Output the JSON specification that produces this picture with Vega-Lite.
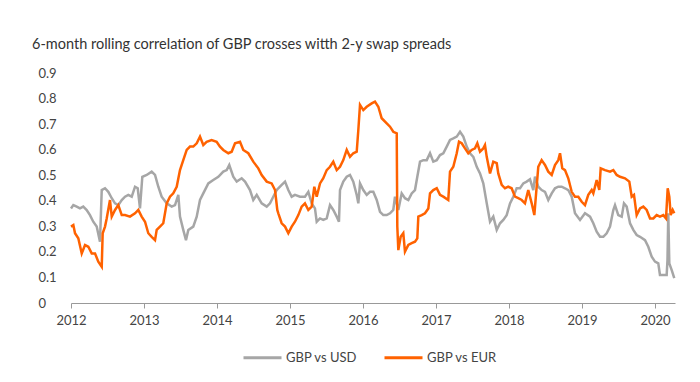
{
  "$schema": "https://vega.github.io/schema/vega-lite/v6.json",
  "width": 604,
  "height": 230,
  "autosize": {"type": "none"},
  "padding": {"left": 71, "top": 73, "right": 25, "bottom": 79},
  "background": "white",
  "title": {
    "text": "6-month rolling correlation of GBP crosses witth 2-y swap spreads",
    "anchor": "start",
    "frame": "group",
    "dx": -39,
    "offset": 15,
    "font": "Lato",
    "fontSize": 14.5,
    "fontWeight": "normal",
    "color": "#333333"
  },
  "config": {
    "view": {"stroke": null},
    "font": "Lato"
  },
  "data": {
    "values": [
      {"year": 2012.000, "series": "GBP vs USD", "value": 0.370},
      {"year": 2012.032, "series": "GBP vs USD", "value": 0.383},
      {"year": 2012.078, "series": "GBP vs USD", "value": 0.377},
      {"year": 2012.123, "series": "GBP vs USD", "value": 0.370},
      {"year": 2012.168, "series": "GBP vs USD", "value": 0.377},
      {"year": 2012.215, "series": "GBP vs USD", "value": 0.364},
      {"year": 2012.260, "series": "GBP vs USD", "value": 0.344},
      {"year": 2012.305, "series": "GBP vs USD", "value": 0.318},
      {"year": 2012.352, "series": "GBP vs USD", "value": 0.299},
      {"year": 2012.397, "series": "GBP vs USD", "value": 0.240},
      {"year": 2012.421, "series": "GBP vs USD", "value": 0.442},
      {"year": 2012.466, "series": "GBP vs USD", "value": 0.449},
      {"year": 2012.511, "series": "GBP vs USD", "value": 0.435},
      {"year": 2012.558, "series": "GBP vs USD", "value": 0.410},
      {"year": 2012.603, "series": "GBP vs USD", "value": 0.390},
      {"year": 2012.648, "series": "GBP vs USD", "value": 0.383},
      {"year": 2012.695, "series": "GBP vs USD", "value": 0.403},
      {"year": 2012.740, "series": "GBP vs USD", "value": 0.416},
      {"year": 2012.785, "series": "GBP vs USD", "value": 0.423},
      {"year": 2012.832, "series": "GBP vs USD", "value": 0.416},
      {"year": 2012.877, "series": "GBP vs USD", "value": 0.455},
      {"year": 2012.914, "series": "GBP vs USD", "value": 0.449},
      {"year": 2012.945, "series": "GBP vs USD", "value": 0.370},
      {"year": 2012.977, "series": "GBP vs USD", "value": 0.494},
      {"year": 2013.037, "series": "GBP vs USD", "value": 0.501},
      {"year": 2013.105, "series": "GBP vs USD", "value": 0.514},
      {"year": 2013.151, "series": "GBP vs USD", "value": 0.501},
      {"year": 2013.196, "series": "GBP vs USD", "value": 0.455},
      {"year": 2013.242, "series": "GBP vs USD", "value": 0.416},
      {"year": 2013.311, "series": "GBP vs USD", "value": 0.390},
      {"year": 2013.379, "series": "GBP vs USD", "value": 0.377},
      {"year": 2013.425, "series": "GBP vs USD", "value": 0.383},
      {"year": 2013.470, "series": "GBP vs USD", "value": 0.423},
      {"year": 2013.493, "series": "GBP vs USD", "value": 0.338},
      {"year": 2013.538, "series": "GBP vs USD", "value": 0.286},
      {"year": 2013.575, "series": "GBP vs USD", "value": 0.246},
      {"year": 2013.607, "series": "GBP vs USD", "value": 0.286},
      {"year": 2013.675, "series": "GBP vs USD", "value": 0.299},
      {"year": 2013.722, "series": "GBP vs USD", "value": 0.338},
      {"year": 2013.767, "series": "GBP vs USD", "value": 0.403},
      {"year": 2013.812, "series": "GBP vs USD", "value": 0.429},
      {"year": 2013.881, "series": "GBP vs USD", "value": 0.468},
      {"year": 2013.949, "series": "GBP vs USD", "value": 0.481},
      {"year": 2014.018, "series": "GBP vs USD", "value": 0.494},
      {"year": 2014.086, "series": "GBP vs USD", "value": 0.514},
      {"year": 2014.133, "series": "GBP vs USD", "value": 0.520},
      {"year": 2014.168, "series": "GBP vs USD", "value": 0.540},
      {"year": 2014.223, "series": "GBP vs USD", "value": 0.494},
      {"year": 2014.270, "series": "GBP vs USD", "value": 0.475},
      {"year": 2014.338, "series": "GBP vs USD", "value": 0.488},
      {"year": 2014.384, "series": "GBP vs USD", "value": 0.475},
      {"year": 2014.452, "series": "GBP vs USD", "value": 0.442},
      {"year": 2014.497, "series": "GBP vs USD", "value": 0.403},
      {"year": 2014.544, "series": "GBP vs USD", "value": 0.423},
      {"year": 2014.612, "series": "GBP vs USD", "value": 0.390},
      {"year": 2014.681, "series": "GBP vs USD", "value": 0.377},
      {"year": 2014.726, "series": "GBP vs USD", "value": 0.390},
      {"year": 2014.771, "series": "GBP vs USD", "value": 0.416},
      {"year": 2014.818, "series": "GBP vs USD", "value": 0.442},
      {"year": 2014.840, "series": "GBP vs USD", "value": 0.449},
      {"year": 2014.886, "series": "GBP vs USD", "value": 0.462},
      {"year": 2014.932, "series": "GBP vs USD", "value": 0.475},
      {"year": 2014.977, "series": "GBP vs USD", "value": 0.442},
      {"year": 2015.023, "series": "GBP vs USD", "value": 0.416},
      {"year": 2015.068, "series": "GBP vs USD", "value": 0.423},
      {"year": 2015.137, "series": "GBP vs USD", "value": 0.416},
      {"year": 2015.205, "series": "GBP vs USD", "value": 0.416},
      {"year": 2015.251, "series": "GBP vs USD", "value": 0.435},
      {"year": 2015.297, "series": "GBP vs USD", "value": 0.390},
      {"year": 2015.342, "series": "GBP vs USD", "value": 0.370},
      {"year": 2015.366, "series": "GBP vs USD", "value": 0.318},
      {"year": 2015.411, "series": "GBP vs USD", "value": 0.331},
      {"year": 2015.456, "series": "GBP vs USD", "value": 0.325},
      {"year": 2015.503, "series": "GBP vs USD", "value": 0.331},
      {"year": 2015.548, "series": "GBP vs USD", "value": 0.383},
      {"year": 2015.593, "series": "GBP vs USD", "value": 0.364},
      {"year": 2015.640, "series": "GBP vs USD", "value": 0.338},
      {"year": 2015.671, "series": "GBP vs USD", "value": 0.318},
      {"year": 2015.685, "series": "GBP vs USD", "value": 0.442},
      {"year": 2015.730, "series": "GBP vs USD", "value": 0.475},
      {"year": 2015.777, "series": "GBP vs USD", "value": 0.494},
      {"year": 2015.822, "series": "GBP vs USD", "value": 0.501},
      {"year": 2015.867, "series": "GBP vs USD", "value": 0.475},
      {"year": 2015.914, "series": "GBP vs USD", "value": 0.423},
      {"year": 2015.936, "series": "GBP vs USD", "value": 0.390},
      {"year": 2015.959, "series": "GBP vs USD", "value": 0.468},
      {"year": 2016.004, "series": "GBP vs USD", "value": 0.442},
      {"year": 2016.051, "series": "GBP vs USD", "value": 0.423},
      {"year": 2016.096, "series": "GBP vs USD", "value": 0.435},
      {"year": 2016.141, "series": "GBP vs USD", "value": 0.435},
      {"year": 2016.188, "series": "GBP vs USD", "value": 0.403},
      {"year": 2016.233, "series": "GBP vs USD", "value": 0.357},
      {"year": 2016.278, "series": "GBP vs USD", "value": 0.344},
      {"year": 2016.325, "series": "GBP vs USD", "value": 0.344},
      {"year": 2016.370, "series": "GBP vs USD", "value": 0.351},
      {"year": 2016.415, "series": "GBP vs USD", "value": 0.364},
      {"year": 2016.438, "series": "GBP vs USD", "value": 0.416},
      {"year": 2016.484, "series": "GBP vs USD", "value": 0.364},
      {"year": 2016.530, "series": "GBP vs USD", "value": 0.429},
      {"year": 2016.575, "series": "GBP vs USD", "value": 0.410},
      {"year": 2016.621, "series": "GBP vs USD", "value": 0.403},
      {"year": 2016.667, "series": "GBP vs USD", "value": 0.429},
      {"year": 2016.712, "series": "GBP vs USD", "value": 0.442},
      {"year": 2016.744, "series": "GBP vs USD", "value": 0.494},
      {"year": 2016.781, "series": "GBP vs USD", "value": 0.553},
      {"year": 2016.826, "series": "GBP vs USD", "value": 0.559},
      {"year": 2016.873, "series": "GBP vs USD", "value": 0.559},
      {"year": 2016.918, "series": "GBP vs USD", "value": 0.586},
      {"year": 2016.963, "series": "GBP vs USD", "value": 0.553},
      {"year": 2017.010, "series": "GBP vs USD", "value": 0.559},
      {"year": 2017.055, "series": "GBP vs USD", "value": 0.579},
      {"year": 2017.100, "series": "GBP vs USD", "value": 0.586},
      {"year": 2017.147, "series": "GBP vs USD", "value": 0.612},
      {"year": 2017.192, "series": "GBP vs USD", "value": 0.638},
      {"year": 2017.237, "series": "GBP vs USD", "value": 0.644},
      {"year": 2017.284, "series": "GBP vs USD", "value": 0.651},
      {"year": 2017.329, "series": "GBP vs USD", "value": 0.670},
      {"year": 2017.374, "series": "GBP vs USD", "value": 0.651},
      {"year": 2017.421, "series": "GBP vs USD", "value": 0.612},
      {"year": 2017.466, "series": "GBP vs USD", "value": 0.586},
      {"year": 2017.511, "series": "GBP vs USD", "value": 0.572},
      {"year": 2017.558, "series": "GBP vs USD", "value": 0.533},
      {"year": 2017.603, "series": "GBP vs USD", "value": 0.507},
      {"year": 2017.648, "series": "GBP vs USD", "value": 0.468},
      {"year": 2017.695, "series": "GBP vs USD", "value": 0.390},
      {"year": 2017.740, "series": "GBP vs USD", "value": 0.318},
      {"year": 2017.785, "series": "GBP vs USD", "value": 0.338},
      {"year": 2017.832, "series": "GBP vs USD", "value": 0.286},
      {"year": 2017.877, "series": "GBP vs USD", "value": 0.312},
      {"year": 2017.922, "series": "GBP vs USD", "value": 0.325},
      {"year": 2017.968, "series": "GBP vs USD", "value": 0.344},
      {"year": 2018.014, "series": "GBP vs USD", "value": 0.390},
      {"year": 2018.059, "series": "GBP vs USD", "value": 0.416},
      {"year": 2018.105, "series": "GBP vs USD", "value": 0.449},
      {"year": 2018.151, "series": "GBP vs USD", "value": 0.449},
      {"year": 2018.196, "series": "GBP vs USD", "value": 0.468},
      {"year": 2018.242, "series": "GBP vs USD", "value": 0.475},
      {"year": 2018.288, "series": "GBP vs USD", "value": 0.484},
      {"year": 2018.333, "series": "GBP vs USD", "value": 0.442},
      {"year": 2018.356, "series": "GBP vs USD", "value": 0.494},
      {"year": 2018.401, "series": "GBP vs USD", "value": 0.455},
      {"year": 2018.448, "series": "GBP vs USD", "value": 0.442},
      {"year": 2018.493, "series": "GBP vs USD", "value": 0.435},
      {"year": 2018.538, "series": "GBP vs USD", "value": 0.403},
      {"year": 2018.585, "series": "GBP vs USD", "value": 0.429},
      {"year": 2018.630, "series": "GBP vs USD", "value": 0.449},
      {"year": 2018.675, "series": "GBP vs USD", "value": 0.455},
      {"year": 2018.722, "series": "GBP vs USD", "value": 0.455},
      {"year": 2018.767, "series": "GBP vs USD", "value": 0.449},
      {"year": 2018.812, "series": "GBP vs USD", "value": 0.442},
      {"year": 2018.859, "series": "GBP vs USD", "value": 0.416},
      {"year": 2018.904, "series": "GBP vs USD", "value": 0.351},
      {"year": 2018.973, "series": "GBP vs USD", "value": 0.325},
      {"year": 2019.041, "series": "GBP vs USD", "value": 0.351},
      {"year": 2019.110, "series": "GBP vs USD", "value": 0.338},
      {"year": 2019.155, "series": "GBP vs USD", "value": 0.312},
      {"year": 2019.201, "series": "GBP vs USD", "value": 0.279},
      {"year": 2019.247, "series": "GBP vs USD", "value": 0.259},
      {"year": 2019.292, "series": "GBP vs USD", "value": 0.259},
      {"year": 2019.338, "series": "GBP vs USD", "value": 0.273},
      {"year": 2019.384, "series": "GBP vs USD", "value": 0.299},
      {"year": 2019.429, "series": "GBP vs USD", "value": 0.364},
      {"year": 2019.452, "series": "GBP vs USD", "value": 0.383},
      {"year": 2019.497, "series": "GBP vs USD", "value": 0.344},
      {"year": 2019.544, "series": "GBP vs USD", "value": 0.338},
      {"year": 2019.575, "series": "GBP vs USD", "value": 0.390},
      {"year": 2019.612, "series": "GBP vs USD", "value": 0.377},
      {"year": 2019.658, "series": "GBP vs USD", "value": 0.312},
      {"year": 2019.703, "series": "GBP vs USD", "value": 0.286},
      {"year": 2019.749, "series": "GBP vs USD", "value": 0.266},
      {"year": 2019.795, "series": "GBP vs USD", "value": 0.259},
      {"year": 2019.863, "series": "GBP vs USD", "value": 0.246},
      {"year": 2019.908, "series": "GBP vs USD", "value": 0.220},
      {"year": 2019.955, "series": "GBP vs USD", "value": 0.181},
      {"year": 2020.000, "series": "GBP vs USD", "value": 0.162},
      {"year": 2020.045, "series": "GBP vs USD", "value": 0.155},
      {"year": 2020.068, "series": "GBP vs USD", "value": 0.110},
      {"year": 2020.160, "series": "GBP vs USD", "value": 0.110},
      {"year": 2020.171, "series": "GBP vs USD", "value": 0.168},
      {"year": 2020.182, "series": "GBP vs USD", "value": 0.351},
      {"year": 2020.196, "series": "GBP vs USD", "value": 0.155},
      {"year": 2020.229, "series": "GBP vs USD", "value": 0.129},
      {"year": 2020.264, "series": "GBP vs USD", "value": 0.097},

      {"year": 2012.000, "series": "GBP vs EUR", "value": 0.299},
      {"year": 2012.032, "series": "GBP vs EUR", "value": 0.305},
      {"year": 2012.055, "series": "GBP vs EUR", "value": 0.273},
      {"year": 2012.100, "series": "GBP vs EUR", "value": 0.253},
      {"year": 2012.147, "series": "GBP vs EUR", "value": 0.194},
      {"year": 2012.192, "series": "GBP vs EUR", "value": 0.227},
      {"year": 2012.237, "series": "GBP vs EUR", "value": 0.220},
      {"year": 2012.284, "series": "GBP vs EUR", "value": 0.194},
      {"year": 2012.329, "series": "GBP vs EUR", "value": 0.194},
      {"year": 2012.374, "series": "GBP vs EUR", "value": 0.162},
      {"year": 2012.421, "series": "GBP vs EUR", "value": 0.142},
      {"year": 2012.434, "series": "GBP vs EUR", "value": 0.273},
      {"year": 2012.466, "series": "GBP vs EUR", "value": 0.299},
      {"year": 2012.489, "series": "GBP vs EUR", "value": 0.331},
      {"year": 2012.534, "series": "GBP vs EUR", "value": 0.403},
      {"year": 2012.558, "series": "GBP vs EUR", "value": 0.338},
      {"year": 2012.603, "series": "GBP vs EUR", "value": 0.364},
      {"year": 2012.648, "series": "GBP vs EUR", "value": 0.383},
      {"year": 2012.695, "series": "GBP vs EUR", "value": 0.344},
      {"year": 2012.740, "series": "GBP vs EUR", "value": 0.344},
      {"year": 2012.808, "series": "GBP vs EUR", "value": 0.338},
      {"year": 2012.877, "series": "GBP vs EUR", "value": 0.351},
      {"year": 2012.922, "series": "GBP vs EUR", "value": 0.364},
      {"year": 2012.968, "series": "GBP vs EUR", "value": 0.338},
      {"year": 2013.014, "series": "GBP vs EUR", "value": 0.318},
      {"year": 2013.059, "series": "GBP vs EUR", "value": 0.273},
      {"year": 2013.105, "series": "GBP vs EUR", "value": 0.259},
      {"year": 2013.151, "series": "GBP vs EUR", "value": 0.246},
      {"year": 2013.174, "series": "GBP vs EUR", "value": 0.286},
      {"year": 2013.219, "series": "GBP vs EUR", "value": 0.299},
      {"year": 2013.264, "series": "GBP vs EUR", "value": 0.312},
      {"year": 2013.311, "series": "GBP vs EUR", "value": 0.390},
      {"year": 2013.356, "series": "GBP vs EUR", "value": 0.416},
      {"year": 2013.401, "series": "GBP vs EUR", "value": 0.429},
      {"year": 2013.448, "series": "GBP vs EUR", "value": 0.455},
      {"year": 2013.493, "series": "GBP vs EUR", "value": 0.520},
      {"year": 2013.538, "series": "GBP vs EUR", "value": 0.559},
      {"year": 2013.585, "series": "GBP vs EUR", "value": 0.599},
      {"year": 2013.630, "series": "GBP vs EUR", "value": 0.612},
      {"year": 2013.675, "series": "GBP vs EUR", "value": 0.612},
      {"year": 2013.722, "series": "GBP vs EUR", "value": 0.625},
      {"year": 2013.767, "series": "GBP vs EUR", "value": 0.651},
      {"year": 2013.812, "series": "GBP vs EUR", "value": 0.618},
      {"year": 2013.858, "series": "GBP vs EUR", "value": 0.631},
      {"year": 2013.926, "series": "GBP vs EUR", "value": 0.638},
      {"year": 2013.995, "series": "GBP vs EUR", "value": 0.631},
      {"year": 2014.041, "series": "GBP vs EUR", "value": 0.612},
      {"year": 2014.086, "series": "GBP vs EUR", "value": 0.599},
      {"year": 2014.155, "series": "GBP vs EUR", "value": 0.586},
      {"year": 2014.201, "series": "GBP vs EUR", "value": 0.592},
      {"year": 2014.247, "series": "GBP vs EUR", "value": 0.625},
      {"year": 2014.315, "series": "GBP vs EUR", "value": 0.631},
      {"year": 2014.360, "series": "GBP vs EUR", "value": 0.599},
      {"year": 2014.429, "series": "GBP vs EUR", "value": 0.586},
      {"year": 2014.497, "series": "GBP vs EUR", "value": 0.553},
      {"year": 2014.566, "series": "GBP vs EUR", "value": 0.527},
      {"year": 2014.612, "series": "GBP vs EUR", "value": 0.501},
      {"year": 2014.681, "series": "GBP vs EUR", "value": 0.475},
      {"year": 2014.749, "series": "GBP vs EUR", "value": 0.468},
      {"year": 2014.795, "series": "GBP vs EUR", "value": 0.442},
      {"year": 2014.826, "series": "GBP vs EUR", "value": 0.364},
      {"year": 2014.840, "series": "GBP vs EUR", "value": 0.351},
      {"year": 2014.886, "series": "GBP vs EUR", "value": 0.312},
      {"year": 2014.932, "series": "GBP vs EUR", "value": 0.299},
      {"year": 2014.977, "series": "GBP vs EUR", "value": 0.273},
      {"year": 2015.023, "series": "GBP vs EUR", "value": 0.299},
      {"year": 2015.068, "series": "GBP vs EUR", "value": 0.318},
      {"year": 2015.114, "series": "GBP vs EUR", "value": 0.344},
      {"year": 2015.160, "series": "GBP vs EUR", "value": 0.377},
      {"year": 2015.205, "series": "GBP vs EUR", "value": 0.390},
      {"year": 2015.251, "series": "GBP vs EUR", "value": 0.364},
      {"year": 2015.297, "series": "GBP vs EUR", "value": 0.377},
      {"year": 2015.333, "series": "GBP vs EUR", "value": 0.455},
      {"year": 2015.366, "series": "GBP vs EUR", "value": 0.416},
      {"year": 2015.411, "series": "GBP vs EUR", "value": 0.468},
      {"year": 2015.456, "series": "GBP vs EUR", "value": 0.488},
      {"year": 2015.503, "series": "GBP vs EUR", "value": 0.520},
      {"year": 2015.548, "series": "GBP vs EUR", "value": 0.533},
      {"year": 2015.593, "series": "GBP vs EUR", "value": 0.553},
      {"year": 2015.640, "series": "GBP vs EUR", "value": 0.520},
      {"year": 2015.685, "series": "GBP vs EUR", "value": 0.533},
      {"year": 2015.730, "series": "GBP vs EUR", "value": 0.559},
      {"year": 2015.777, "series": "GBP vs EUR", "value": 0.599},
      {"year": 2015.822, "series": "GBP vs EUR", "value": 0.572},
      {"year": 2015.867, "series": "GBP vs EUR", "value": 0.586},
      {"year": 2015.914, "series": "GBP vs EUR", "value": 0.592},
      {"year": 2015.936, "series": "GBP vs EUR", "value": 0.677},
      {"year": 2015.959, "series": "GBP vs EUR", "value": 0.775},
      {"year": 2016.004, "series": "GBP vs EUR", "value": 0.755},
      {"year": 2016.051, "series": "GBP vs EUR", "value": 0.768},
      {"year": 2016.119, "series": "GBP vs EUR", "value": 0.781},
      {"year": 2016.164, "series": "GBP vs EUR", "value": 0.788},
      {"year": 2016.210, "series": "GBP vs EUR", "value": 0.768},
      {"year": 2016.256, "series": "GBP vs EUR", "value": 0.723},
      {"year": 2016.325, "series": "GBP vs EUR", "value": 0.703},
      {"year": 2016.370, "series": "GBP vs EUR", "value": 0.690},
      {"year": 2016.415, "series": "GBP vs EUR", "value": 0.670},
      {"year": 2016.462, "series": "GBP vs EUR", "value": 0.664},
      {"year": 2016.470, "series": "GBP vs EUR", "value": 0.299},
      {"year": 2016.484, "series": "GBP vs EUR", "value": 0.207},
      {"year": 2016.516, "series": "GBP vs EUR", "value": 0.259},
      {"year": 2016.552, "series": "GBP vs EUR", "value": 0.273},
      {"year": 2016.575, "series": "GBP vs EUR", "value": 0.201},
      {"year": 2016.621, "series": "GBP vs EUR", "value": 0.227},
      {"year": 2016.667, "series": "GBP vs EUR", "value": 0.234},
      {"year": 2016.712, "series": "GBP vs EUR", "value": 0.240},
      {"year": 2016.744, "series": "GBP vs EUR", "value": 0.253},
      {"year": 2016.758, "series": "GBP vs EUR", "value": 0.338},
      {"year": 2016.804, "series": "GBP vs EUR", "value": 0.344},
      {"year": 2016.849, "series": "GBP vs EUR", "value": 0.351},
      {"year": 2016.895, "series": "GBP vs EUR", "value": 0.370},
      {"year": 2016.918, "series": "GBP vs EUR", "value": 0.429},
      {"year": 2016.963, "series": "GBP vs EUR", "value": 0.442},
      {"year": 2017.010, "series": "GBP vs EUR", "value": 0.449},
      {"year": 2017.055, "series": "GBP vs EUR", "value": 0.423},
      {"year": 2017.100, "series": "GBP vs EUR", "value": 0.416},
      {"year": 2017.168, "series": "GBP vs EUR", "value": 0.403},
      {"year": 2017.192, "series": "GBP vs EUR", "value": 0.514},
      {"year": 2017.237, "series": "GBP vs EUR", "value": 0.533},
      {"year": 2017.284, "series": "GBP vs EUR", "value": 0.586},
      {"year": 2017.315, "series": "GBP vs EUR", "value": 0.631},
      {"year": 2017.352, "series": "GBP vs EUR", "value": 0.625},
      {"year": 2017.397, "series": "GBP vs EUR", "value": 0.605},
      {"year": 2017.442, "series": "GBP vs EUR", "value": 0.586},
      {"year": 2017.489, "series": "GBP vs EUR", "value": 0.599},
      {"year": 2017.534, "series": "GBP vs EUR", "value": 0.605},
      {"year": 2017.566, "series": "GBP vs EUR", "value": 0.625},
      {"year": 2017.603, "series": "GBP vs EUR", "value": 0.592},
      {"year": 2017.648, "series": "GBP vs EUR", "value": 0.605},
      {"year": 2017.671, "series": "GBP vs EUR", "value": 0.618},
      {"year": 2017.695, "series": "GBP vs EUR", "value": 0.572},
      {"year": 2017.740, "series": "GBP vs EUR", "value": 0.507},
      {"year": 2017.785, "series": "GBP vs EUR", "value": 0.553},
      {"year": 2017.832, "series": "GBP vs EUR", "value": 0.547},
      {"year": 2017.853, "series": "GBP vs EUR", "value": 0.507},
      {"year": 2017.900, "series": "GBP vs EUR", "value": 0.462},
      {"year": 2017.945, "series": "GBP vs EUR", "value": 0.449},
      {"year": 2017.990, "series": "GBP vs EUR", "value": 0.455},
      {"year": 2018.036, "series": "GBP vs EUR", "value": 0.449},
      {"year": 2018.082, "series": "GBP vs EUR", "value": 0.416},
      {"year": 2018.127, "series": "GBP vs EUR", "value": 0.410},
      {"year": 2018.174, "series": "GBP vs EUR", "value": 0.403},
      {"year": 2018.219, "series": "GBP vs EUR", "value": 0.390},
      {"year": 2018.264, "series": "GBP vs EUR", "value": 0.442},
      {"year": 2018.311, "series": "GBP vs EUR", "value": 0.390},
      {"year": 2018.347, "series": "GBP vs EUR", "value": 0.344},
      {"year": 2018.379, "series": "GBP vs EUR", "value": 0.455},
      {"year": 2018.401, "series": "GBP vs EUR", "value": 0.533},
      {"year": 2018.447, "series": "GBP vs EUR", "value": 0.559},
      {"year": 2018.493, "series": "GBP vs EUR", "value": 0.540},
      {"year": 2018.538, "series": "GBP vs EUR", "value": 0.514},
      {"year": 2018.585, "series": "GBP vs EUR", "value": 0.501},
      {"year": 2018.630, "series": "GBP vs EUR", "value": 0.540},
      {"year": 2018.675, "series": "GBP vs EUR", "value": 0.559},
      {"year": 2018.699, "series": "GBP vs EUR", "value": 0.586},
      {"year": 2018.730, "series": "GBP vs EUR", "value": 0.527},
      {"year": 2018.767, "series": "GBP vs EUR", "value": 0.520},
      {"year": 2018.812, "series": "GBP vs EUR", "value": 0.488},
      {"year": 2018.859, "series": "GBP vs EUR", "value": 0.435},
      {"year": 2018.904, "series": "GBP vs EUR", "value": 0.416},
      {"year": 2018.949, "series": "GBP vs EUR", "value": 0.416},
      {"year": 2018.996, "series": "GBP vs EUR", "value": 0.396},
      {"year": 2019.041, "series": "GBP vs EUR", "value": 0.383},
      {"year": 2019.086, "series": "GBP vs EUR", "value": 0.423},
      {"year": 2019.133, "series": "GBP vs EUR", "value": 0.442},
      {"year": 2019.155, "series": "GBP vs EUR", "value": 0.429},
      {"year": 2019.201, "series": "GBP vs EUR", "value": 0.481},
      {"year": 2019.237, "series": "GBP vs EUR", "value": 0.442},
      {"year": 2019.256, "series": "GBP vs EUR", "value": 0.527},
      {"year": 2019.315, "series": "GBP vs EUR", "value": 0.520},
      {"year": 2019.384, "series": "GBP vs EUR", "value": 0.514},
      {"year": 2019.429, "series": "GBP vs EUR", "value": 0.520},
      {"year": 2019.475, "series": "GBP vs EUR", "value": 0.501},
      {"year": 2019.521, "series": "GBP vs EUR", "value": 0.494},
      {"year": 2019.589, "series": "GBP vs EUR", "value": 0.488},
      {"year": 2019.648, "series": "GBP vs EUR", "value": 0.475},
      {"year": 2019.681, "series": "GBP vs EUR", "value": 0.416},
      {"year": 2019.712, "series": "GBP vs EUR", "value": 0.423},
      {"year": 2019.749, "series": "GBP vs EUR", "value": 0.344},
      {"year": 2019.795, "series": "GBP vs EUR", "value": 0.370},
      {"year": 2019.840, "series": "GBP vs EUR", "value": 0.377},
      {"year": 2019.886, "series": "GBP vs EUR", "value": 0.364},
      {"year": 2019.932, "series": "GBP vs EUR", "value": 0.331},
      {"year": 2019.977, "series": "GBP vs EUR", "value": 0.331},
      {"year": 2020.023, "series": "GBP vs EUR", "value": 0.344},
      {"year": 2020.068, "series": "GBP vs EUR", "value": 0.338},
      {"year": 2020.114, "series": "GBP vs EUR", "value": 0.344},
      {"year": 2020.151, "series": "GBP vs EUR", "value": 0.331},
      {"year": 2020.174, "series": "GBP vs EUR", "value": 0.449},
      {"year": 2020.196, "series": "GBP vs EUR", "value": 0.416},
      {"year": 2020.215, "series": "GBP vs EUR", "value": 0.344},
      {"year": 2020.242, "series": "GBP vs EUR", "value": 0.364},
      {"year": 2020.264, "series": "GBP vs EUR", "value": 0.351}
    ]
  },
  "mark": {"type": "line", "strokeWidth": 2.5, "strokeJoin": "miter", "interpolate": "linear"},
  "encoding": {
    "x": {
      "field": "year",
      "type": "quantitative",
      "scale": {"domain": [2012, 2020.274], "nice": false, "zero": false},
      "axis": {
        "title": null,
        "values": [2012, 2013, 2014, 2015, 2016, 2017, 2018, 2019, 2020],
        "format": "d",
        "grid": false,
        "labelFlush": false,
        "labelOverlap": false,
        "domainColor": "#999999",
        "domainWidth": 1,
        "tickColor": "#999999",
        "tickSize": 5,
        "labelFont": "Lato",
        "labelFontSize": 13,
        "labelColor": "#444444",
        "labelPadding": 6
      }
    },
    "y": {
      "field": "value",
      "type": "quantitative",
      "scale": {"domain": [0, 0.9], "nice": false},
      "axis": {
        "title": null,
        "values": [0, 0.1, 0.2, 0.3, 0.4, 0.5, 0.6, 0.7, 0.8, 0.9],
        "format": ".1~f",
        "grid": false,
        "domain": false,
        "ticks": false,
        "labelAlign": "left",
        "labelPadding": 33,
        "labelFont": "Lato",
        "labelFontSize": 13,
        "labelColor": "#444444"
      }
    },
    "color": {
      "field": "series",
      "type": "nominal",
      "scale": {"domain": ["GBP vs USD", "GBP vs EUR"], "range": ["#A6A6A6", "#FF6200"]},
      "legend": {
        "title": null,
        "orient": "none",
        "direction": "horizontal",
        "legendX": 171,
        "legendY": 264,
        "symbolType": "stroke",
        "symbolSize": 1444,
        "symbolStrokeWidth": 3,
        "labelFont": "Lato",
        "labelFontSize": 13,
        "labelColor": "#444444",
        "labelOffset": 3,
        "columnPadding": 20
      }
    }
  }
}
